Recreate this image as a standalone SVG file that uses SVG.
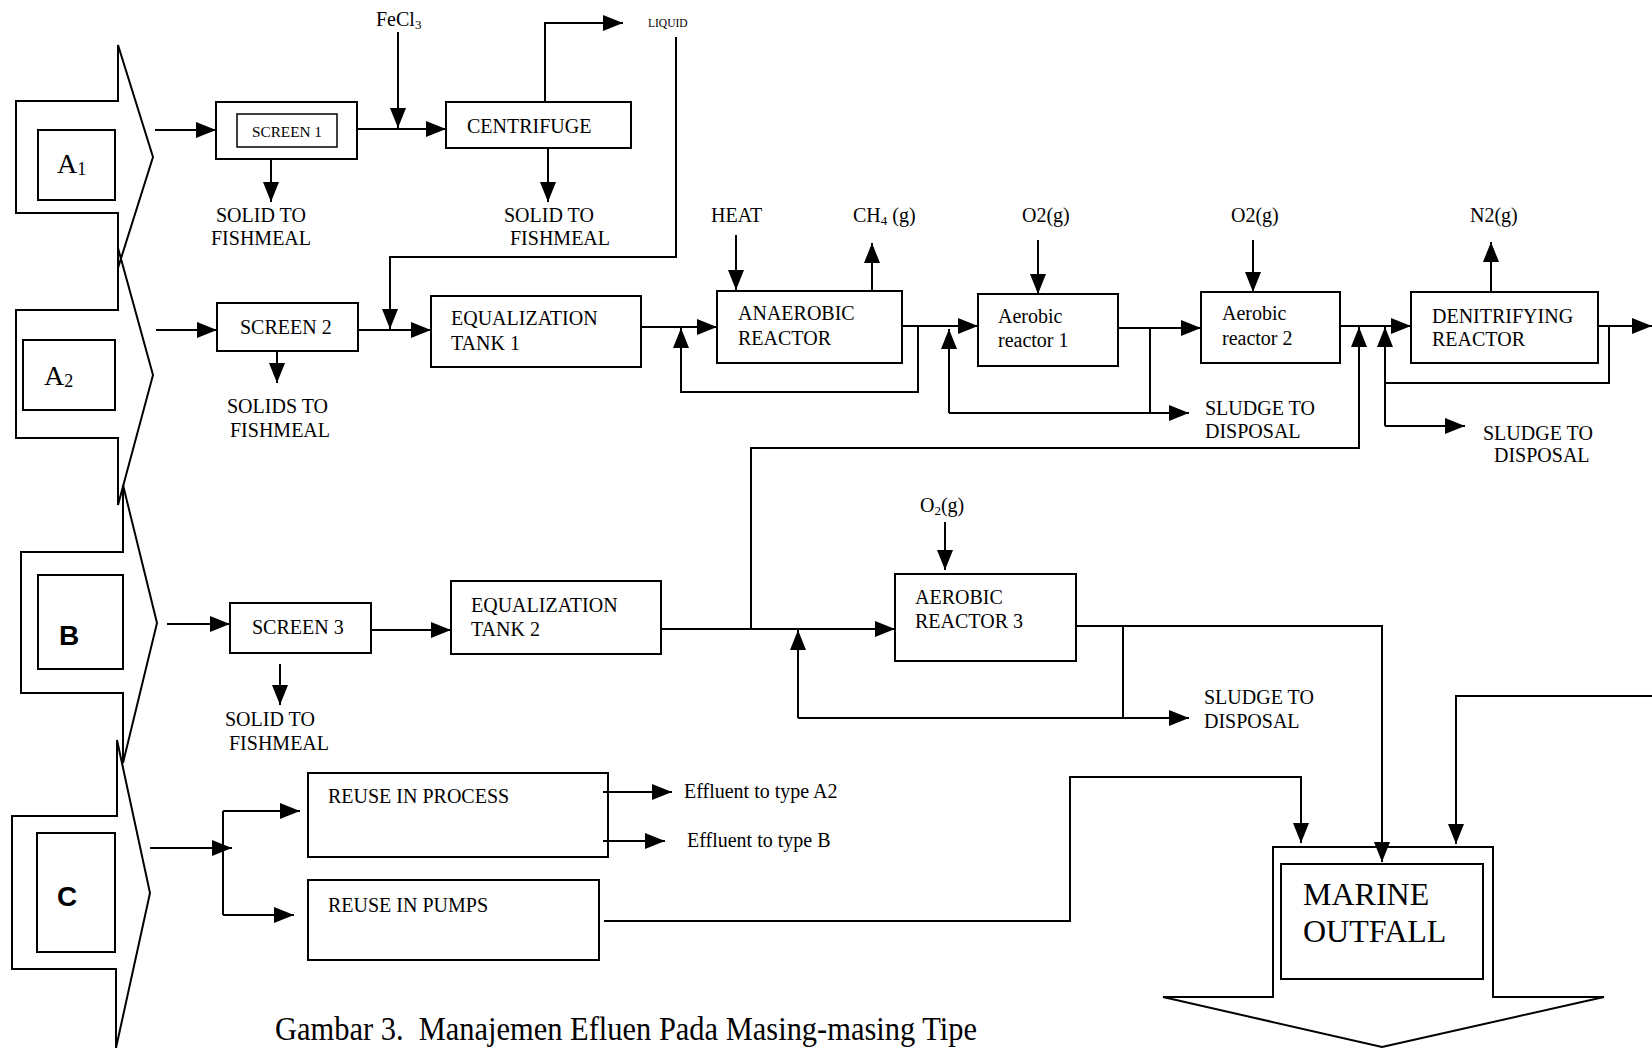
<svg xmlns="http://www.w3.org/2000/svg" width="1652" height="1048" viewBox="0 0 1652 1048">
<defs>
<marker id="ah" viewBox="0 0 20 16" refX="20" refY="8" markerWidth="20" markerHeight="16" markerUnits="userSpaceOnUse" orient="auto"><path d="M0,0 L20,8 L0,16 z" fill="#000"/></marker>
</defs>
<style>
.b{fill:none;stroke:#000;stroke-width:2}
.l{fill:none;stroke:#000;stroke-width:2}
.a{marker-end:url(#ah)}
text{font-family:"Liberation Serif","Times New Roman",serif;font-size:20px;fill:#000}
.s{font-size:14px}
.xs{font-size:11.5px}
.big{font-size:32px}
.cap{font-size:34px}
.eff{font-size:20px}
.sans{font-family:"Liberation Sans",Arial,sans-serif;font-weight:bold;font-size:28px}
.ab{font-size:28px}
</style>
<rect width="1652" height="1048" fill="#fff"/>

<g id="connectors">
<line class="l a" x1="155" y1="130" x2="216" y2="130"/>
<line class="l a" x1="357" y1="129" x2="446" y2="129"/>
<line class="l a" x1="398" y1="32" x2="398" y2="128"/>
<path class="l a" d="M545,102 V23 H623"/>
<line class="l a" x1="548" y1="148" x2="548" y2="202"/>
<line class="l a" x1="271" y1="159" x2="271" y2="202"/>
<path class="l a" d="M676,37 V257 H390 V329"/>
<line class="l a" x1="156" y1="330" x2="217" y2="330"/>
<line class="l a" x1="358" y1="330" x2="431" y2="330"/>
<line class="l a" x1="277" y1="351" x2="277" y2="383"/>
<line class="l a" x1="641" y1="327" x2="717" y2="327"/>
<path class="l a" d="M918,326 V392 H681 V328"/>
<line class="l a" x1="902" y1="326" x2="978" y2="326"/>
<line class="l" x1="1150" y1="328" x2="1150" y2="413"/>
<path class="l a" d="M949,413 H1189"/>
<path class="l a" d="M949,413 V329"/>
<line class="l a" x1="1118" y1="328" x2="1201" y2="328"/>
<line class="l a" x1="1340" y1="326" x2="1411" y2="326"/>
<path class="l a" d="M751,629 V448 H1359 V327"/>
<path class="l a" d="M1385,426 V327"/>
<path class="l a" d="M1385,426 H1465"/>
<path class="l" d="M1385,383 H1609 V326"/>
<line class="l a" x1="1598" y1="326" x2="1652" y2="326"/>
<line class="l a" x1="736" y1="235" x2="736" y2="290"/>
<line class="l a" x1="872" y1="291" x2="872" y2="243"/>
<line class="l a" x1="1038" y1="240" x2="1038" y2="294"/>
<line class="l a" x1="1253" y1="240" x2="1253" y2="292"/>
<line class="l a" x1="1491" y1="292" x2="1491" y2="242"/>
<line class="l a" x1="167" y1="624" x2="230" y2="624"/>
<line class="l a" x1="371" y1="630" x2="451" y2="630"/>
<line class="l a" x1="280" y1="664" x2="280" y2="705"/>
<line class="l a" x1="661" y1="629" x2="895" y2="629"/>
<line class="l" x1="1123" y1="626" x2="1123" y2="718"/>
<path class="l a" d="M798,718 H1189"/>
<path class="l a" d="M798,718 V630"/>
<line class="l a" x1="945" y1="522" x2="945" y2="570"/>
<path class="l a" d="M1076,626 H1382 V862"/>
<line class="l a" x1="150" y1="848" x2="232" y2="848"/>
<line class="l" x1="223" y1="811" x2="223" y2="915"/>
<path class="l a" d="M223,811 H300"/>
<path class="l a" d="M223,915 H294"/>
<line class="l a" x1="603" y1="792" x2="672" y2="792"/>
<line class="l a" x1="603" y1="841" x2="665" y2="841"/>
<path class="l a" d="M604,921 H1070 V777 H1301 V843"/>
<path class="l a" d="M1652,696 H1456 V844"/>
</g>

<g id="chevron-A1">
<path class="b" d="M16,101 L118,101 L118,45 L153,157 L118,268 L118,213 L16,213 Z"/>
<rect class="b" x="38" y="130" width="77" height="70"/>
<text class="ab" x="57" y="173">A<tspan font-size="18" dy="2">1</tspan></text>
</g>
<g id="chevron-A2">
<path class="b" d="M16,310 L118,310 L118,248 L153,375 L118,505 L118,438 L16,438 Z"/>
<rect class="b" x="23" y="340" width="92" height="70"/>
<text class="ab" x="44" y="385">A<tspan font-size="18" dy="2">2</tspan></text>
</g>
<g id="chevron-B">
<path class="b" d="M21,552 L123,552 L123,485 L157,623 L123,763 L123,693 L21,693 Z"/>
<rect class="b" x="38" y="575" width="85" height="94"/>
<text class="sans" x="59" y="645">B</text>
</g>
<g id="chevron-C">
<path class="b" d="M12,816 L117,816 L117,740 L150,893 L116,1048 L116,969 L12,969 Z"/>
<rect class="b" x="37" y="833" width="78" height="119"/>
<text class="sans" x="57" y="906">C</text>
</g>

<g id="screen1">
<rect class="b" x="216" y="102" width="141" height="57"/>
<rect class="b" x="237" y="114" width="100" height="33" style="stroke-width:1.5"/>
<text class="s" x="252" y="137" textLength="70" lengthAdjust="spacingAndGlyphs">SCREEN 1</text>
</g>
<g id="solid1"><text x="216" y="222">SOLID TO</text><text x="211" y="245">FISHMEAL</text></g>
<g id="fecl3"><text x="376" y="26">FeCl<tspan font-size="13" dy="3">3</tspan></text></g>
<g id="centrifuge">
<rect class="b" x="446" y="102" width="185" height="46"/>
<text x="467" y="133">CENTRIFUGE</text>
</g>
<g id="solid2"><text x="504" y="222">SOLID TO</text><text x="510" y="245">FISHMEAL</text></g>
<g id="liquid"><text class="xs" x="648" y="27">LIQUID</text></g>

<g id="screen2">
<rect class="b" x="217" y="303" width="141" height="48"/>
<text x="240" y="334">SCREEN 2</text>
</g>
<g id="solids3"><text x="227" y="413">SOLIDS TO</text><text x="230" y="437">FISHMEAL</text></g>
<g id="eq1">
<rect class="b" x="431" y="296" width="210" height="71"/>
<text x="451" y="325">EQUALIZATION</text><text x="451" y="350">TANK 1</text>
</g>
<g id="heat"><text x="711" y="222">HEAT</text></g>
<g id="ch4"><text x="853" y="222">CH<tspan font-size="13" dy="3">4</tspan><tspan dy="-3"> (g)</tspan></text></g>
<g id="anaerobic">
<rect class="b" x="717" y="291" width="185" height="72"/>
<text x="738" y="320">ANAEROBIC</text><text x="738" y="345">REACTOR</text>
</g>
<g id="o2a"><text x="1022" y="222">O2(g)</text></g>
<g id="aerobic1">
<rect class="b" x="978" y="294" width="140" height="72"/>
<text x="998" y="323">Aerobic</text><text x="998" y="347">reactor 1</text>
</g>
<g id="sludge1"><text x="1205" y="415">SLUDGE TO</text><text x="1205" y="438">DISPOSAL</text></g>
<g id="o2b"><text x="1231" y="222">O2(g)</text></g>
<g id="aerobic2">
<rect class="b" x="1201" y="292" width="139" height="71"/>
<text x="1222" y="320">Aerobic</text><text x="1222" y="345">reactor 2</text>
</g>
<g id="n2"><text x="1470" y="222">N2(g)</text></g>
<g id="denitrifying">
<rect class="b" x="1411" y="292" width="187" height="71"/>
<text x="1432" y="323">DENITRIFYING</text><text x="1432" y="346">REACTOR</text>
</g>
<g id="sludge2"><text x="1483" y="440">SLUDGE TO</text><text x="1494" y="462">DISPOSAL</text></g>

<g id="screen3">
<rect class="b" x="230" y="603" width="141" height="50"/>
<text x="252" y="634">SCREEN 3</text>
</g>
<g id="solid4"><text x="225" y="726">SOLID TO</text><text x="229" y="750">FISHMEAL</text></g>
<g id="eq2">
<rect class="b" x="451" y="581" width="210" height="73"/>
<text x="471" y="612">EQUALIZATION</text><text x="471" y="636">TANK 2</text>
</g>
<g id="o2c"><text x="920" y="512">O<tspan font-size="13" dy="3">2</tspan><tspan dy="-3">(g)</tspan></text></g>
<g id="aerobic3">
<rect class="b" x="895" y="574" width="181" height="87"/>
<text x="915" y="604">AEROBIC</text><text x="915" y="628">REACTOR 3</text>
</g>
<g id="sludge3"><text x="1204" y="704">SLUDGE TO</text><text x="1204" y="728">DISPOSAL</text></g>

<g id="reuse-process">
<rect class="b" x="308" y="773" width="300" height="84"/>
<text x="328" y="803">REUSE IN PROCESS</text>
</g>
<g id="effluent-a2"><text class="eff" x="684" y="798">Effluent to type A2</text></g>
<g id="effluent-b"><text class="eff" x="687" y="847">Effluent to type B</text></g>
<g id="reuse-pumps">
<rect class="b" x="308" y="880" width="291" height="80"/>
<text x="328" y="912">REUSE IN PUMPS</text>
</g>

<g id="marine-outfall">
<path class="b" d="M1163,997 L1273,997 L1273,847 L1493,847 L1493,997 L1604,997 L1382,1047 Z"/>
<rect class="b" x="1281" y="864" width="202" height="115"/>
<text class="big" x="1303" y="905">MARINE</text><text class="big" x="1303" y="942">OUTFALL</text>
</g>

<g id="caption"><text class="cap" x="275" y="1040" xml:space="preserve" textLength="702" lengthAdjust="spacingAndGlyphs">Gambar 3.  Manajemen Efluen Pada Masing-masing Tipe</text></g>
</svg>
